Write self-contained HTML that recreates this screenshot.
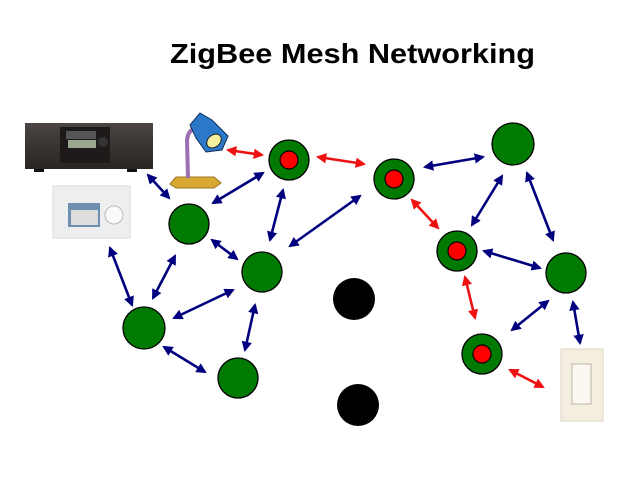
<!DOCTYPE html>
<html><head><meta charset="utf-8"><style>
html,body{margin:0;padding:0;background:#fff;}
svg{display:block;}
</style></head><body>
<svg width="638" height="479" viewBox="0 0 638 479" xmlns="http://www.w3.org/2000/svg">
<defs>
<marker id="bh" viewBox="0 0 10 10" refX="8" refY="5" markerWidth="4" markerHeight="4" orient="auto-start-reverse"><path d="M0,0 L10,5 L0,10 z" fill="#00007f"/></marker>
<marker id="rh" viewBox="0 0 10 10" refX="8" refY="5" markerWidth="4" markerHeight="4" orient="auto-start-reverse"><path d="M0,0 L10,5 L0,10 z" fill="#ee1111"/></marker>
<linearGradient id="st" x1="0" y1="0" x2="0" y2="1"><stop offset="0" stop-color="#4a4442"/><stop offset="1" stop-color="#2a2523"/></linearGradient>
</defs>
<text x="170" y="63" font-family="Liberation Sans, sans-serif" font-weight="bold" font-size="28" textLength="365" lengthAdjust="spacingAndGlyphs" fill="#000">ZigBee Mesh Networking</text>

<!-- stereo -->
<rect x="25" y="123" width="128" height="46" fill="url(#st)"/>
<rect x="60" y="127" width="50" height="36" fill="#1e1a19"/>
<rect x="66" y="131" width="30" height="8" fill="#555"/>
<rect x="68" y="140" width="28" height="8" fill="#9aa590"/>
<circle cx="103" cy="142" r="5" fill="#333"/>
<rect x="34" y="169" width="10" height="3" fill="#111"/><rect x="127" y="169" width="10" height="3" fill="#111"/>
<!-- panel -->
<rect x="53" y="186" width="77" height="52" fill="#eceeef" stroke="#d8dadc"/>
<rect x="68" y="203" width="32" height="24" fill="#6f8fb0"/>
<rect x="71" y="210" width="27" height="15" fill="#ddd"/>
<circle cx="114" cy="215" r="9" fill="#fafafa" stroke="#bbb"/>
<!-- lamp -->
<polygon points="170,184 176,177 214,177 221,183 214,188 176,188" fill="#d9a832" stroke="#9a7420"/>
<path d="M188,178 L187,140 Q188,130 196,128" stroke="#9b6fb0" stroke-width="4" fill="none"/>
<polygon points="190,125 200,113 212,120 228,136 222,150 206,152 196,138" fill="#2b78c8" stroke="#10305c"/>
<ellipse cx="214" cy="141" rx="8" ry="6" fill="#f5f0a0" stroke="#222" transform="rotate(-40 214 141)"/>
<!-- switch -->
<rect x="561" y="349" width="42" height="72" fill="#f3eee0" stroke="#ddd6c4"/>
<rect x="572" y="364" width="19" height="40" fill="#faf8f0" stroke="#bdb6a4"/>

<g stroke="#00007f" stroke-width="2.6" marker-start="url(#bh)" marker-end="url(#bh)">
<line x1="148" y1="175" x2="169" y2="198"/>
<line x1="263" y1="173" x2="213" y2="203"/>
<line x1="283" y1="190" x2="270" y2="240"/>
<line x1="360" y1="196" x2="290" y2="246"/>
<line x1="212" y1="240" x2="237" y2="259"/>
<line x1="110" y1="248" x2="132" y2="305"/>
<line x1="175" y1="256" x2="153" y2="298"/>
<line x1="233" y1="290" x2="174" y2="318"/>
<line x1="255" y1="305" x2="245" y2="350"/>
<line x1="164" y1="347" x2="205" y2="372"/>
<line x1="425" y1="167" x2="483" y2="157"/>
<line x1="502" y1="176" x2="472" y2="225"/>
<line x1="527" y1="173" x2="553" y2="240"/>
<line x1="484" y1="251" x2="540" y2="268"/>
<line x1="548" y1="301" x2="512" y2="330"/>
<line x1="573" y1="302" x2="580" y2="343"/>
</g>
<g stroke="#ee1111" stroke-width="2.6" marker-start="url(#rh)" marker-end="url(#rh)">
<line x1="228" y1="150" x2="262" y2="155"/>
<line x1="318" y1="157" x2="364" y2="164"/>
<line x1="412" y1="200" x2="438" y2="228"/>
<line x1="465" y1="277" x2="475" y2="318"/>
<line x1="510" y1="370" x2="543" y2="387"/>
</g>

<g fill="#007a00" stroke="#000" stroke-width="1.3">
<circle cx="289" cy="160" r="20"/>
<circle cx="189" cy="224" r="20"/>
<circle cx="262" cy="272" r="20"/>
<circle cx="144" cy="328" r="21"/>
<circle cx="238" cy="378" r="20"/>
<circle cx="394" cy="179" r="20"/>
<circle cx="513" cy="144" r="21"/>
<circle cx="457" cy="251" r="20"/>
<circle cx="566" cy="273" r="20"/>
<circle cx="482" cy="354" r="20"/>
</g>
<g fill="#ff0000" stroke="#000" stroke-width="1.2">
<circle cx="289" cy="160" r="9"/>
<circle cx="394" cy="179" r="9"/>
<circle cx="457" cy="251" r="9"/>
<circle cx="482" cy="354" r="9"/>
</g>
<circle cx="354" cy="299" r="21" fill="#000"/>
<circle cx="358" cy="405" r="21" fill="#000"/>
</svg>
</body></html>
